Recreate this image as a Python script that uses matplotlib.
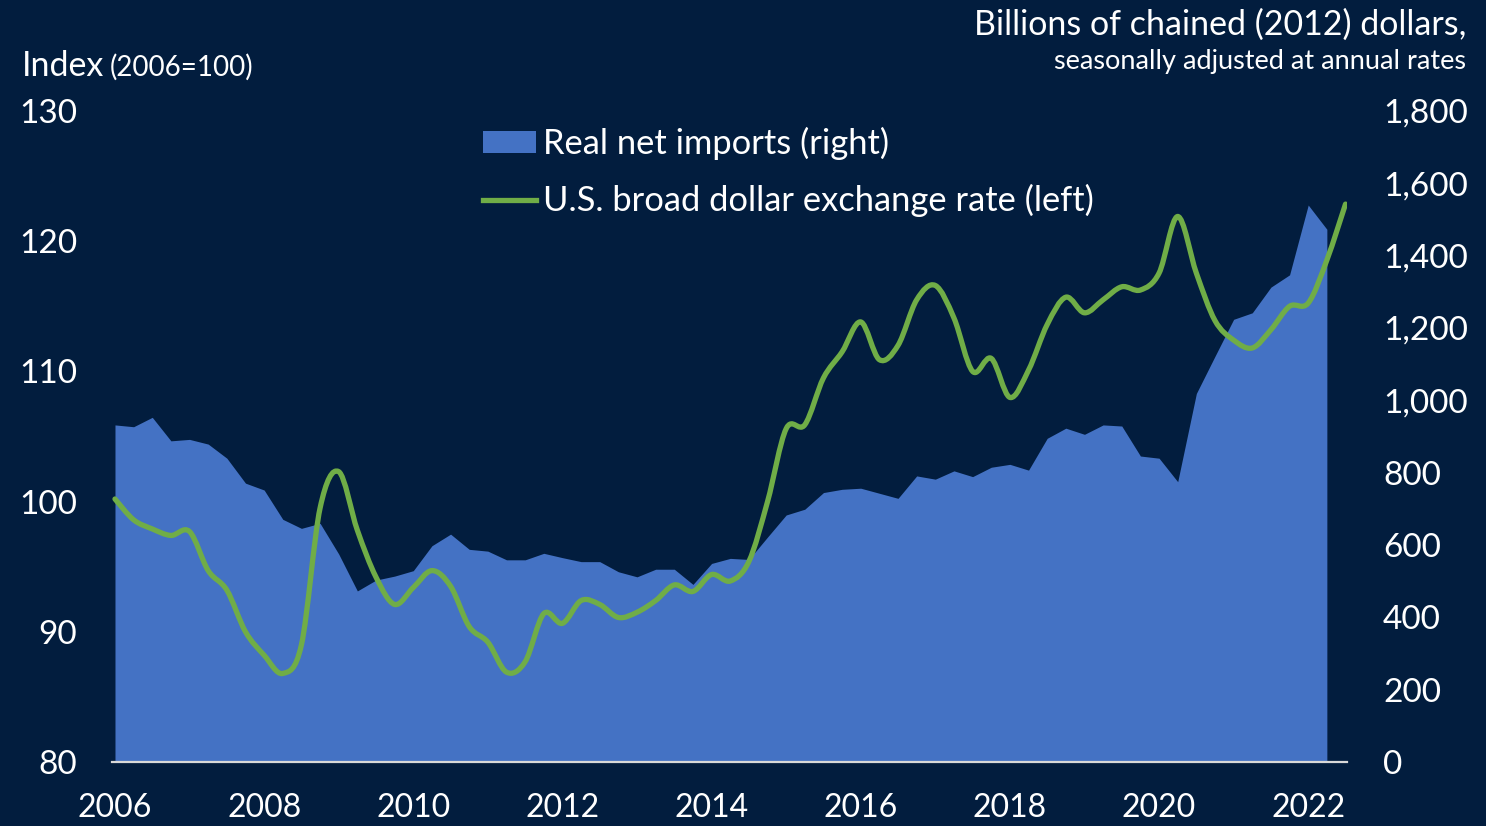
import matplotlib
matplotlib.use("Agg")
import matplotlib.pyplot as plt
from matplotlib.path import Path
from matplotlib.patches import PathPatch
from matplotlib.lines import Line2D
from matplotlib.patches import Patch
import numpy as np

# ---------------- data ----------------
# quarterly real net imports (billions of chained 2012 dollars, right axis), 2006Q1-2022Q2
imports_years = [2006 + q / 4 for q in range(66)]
net_imports = [932, 927, 953, 888,
               892, 879, 840, 771,
               752, 671, 646, 660,
               575, 473, 503, 514,
               529, 598, 630, 588,
               583, 559, 559, 577,
               565, 554, 554, 526,
               512, 533, 533, 491,
               549, 563, 560, 622,
               683, 699, 745, 754,
               757, 743, 729, 791,
               782, 805, 789, 815,
               823, 807, 895, 923,
               906, 932, 929, 846,
               840, 775, 1019, 1122,
               1224, 1242, 1313, 1347,
               1540, 1473]

# quarterly U.S. broad dollar index (2006=100, left axis), 2006Q1-2022Q3
dollar_years = [2006 + q / 4 for q in range(67)]
dollar_index = [100.2, 98.6, 97.9, 97.4,
                97.7, 94.7, 93.2, 90.0,
                88.2, 86.8, 89.0, 99.5,
                102.3, 97.8, 94.2, 92.1,
                93.4, 94.7, 93.5, 90.4,
                89.2, 86.9, 87.7, 91.4,
                90.65, 92.4, 92.1, 91.1,
                91.5, 92.4, 93.6, 93.1,
                94.4, 93.9, 95.4, 100.0,
                105.6, 105.9, 109.5, 111.5,
                113.8, 110.9, 112.0, 115.5,
                116.6, 114.1, 110.0, 111.0,
                108.0, 110.1, 113.6, 115.7,
                114.5, 115.5, 116.5, 116.25,
                117.55, 121.9, 117.55, 113.9,
                112.4, 111.8, 113.2, 115.0,
                115.25, 118.55, 122.85]

x_ticks = [2006, 2008, 2010, 2012, 2014, 2016, 2018, 2020, 2022]
left_ticks = [80, 90, 100, 110, 120, 130]
right_ticks = [0, 200, 400, 600, 800, 1000, 1200, 1400, 1600, 1800]

label_area = "Real net imports (right)"
label_line = "U.S. broad dollar exchange rate (left)"

# ---------------- style ----------------
BG = "#021d3e"
AREA = "#4472c4"
LINE = "#70ad47"
TXT = "white"
FONT = ["Lato", "DejaVu Sans"]
plt.rcParams["font.family"] = FONT
WEIGHT = "normal"

W, H = 1486, 826
fig = plt.figure(figsize=(W / 100, H / 100), dpi=100, facecolor=BG)
ax1 = fig.add_axes([112 / W, 1 - 762 / H, (1347 - 112) / W, (762 - 111) / H])
ax2 = ax1.twinx()
ax1.set_zorder(ax2.get_zorder() + 1)
ax1.patch.set_visible(False)
ax2.set_facecolor(BG)

# area on the right axis
ax2.fill_between(imports_years, net_imports, 0, color=AREA, linewidth=0)
ax2.set_ylim(0, 1800)
ax2.set_yticks(right_ticks)
ax2.set_yticklabels([f"{v:,}" for v in right_ticks])

# smoothed line (Bezier through the data points, like a spreadsheet "smoothed line")
xs = np.array(dollar_years, dtype=float)
ys = np.array(dollar_index, dtype=float)
verts = [(xs[0], ys[0])]
codes = [Path.MOVETO]
n = len(xs)
for i in range(n - 1):
    p0 = np.array([xs[max(i - 1, 0)], ys[max(i - 1, 0)]])
    p1 = np.array([xs[i], ys[i]])
    p2 = np.array([xs[i + 1], ys[i + 1]])
    p3 = np.array([xs[min(i + 2, n - 1)], ys[min(i + 2, n - 1)]])
    c1 = p1 + (p2 - p0) / 6
    c2 = p2 - (p3 - p1) / 6
    verts += [tuple(c1), tuple(c2), tuple(p2)]
    codes += [Path.CURVE4] * 3
ax1.add_patch(PathPatch(Path(verts, codes), facecolor="none", edgecolor=LINE,
                        linewidth=3.8, capstyle="round", joinstyle="round", zorder=3))
ax1.set_ylim(80, 130)
ax1.set_yticks(left_ticks)
ax1.set_xlim(2005.96, 2022.52)
ax1.set_xticks(x_ticks)

for a in (ax1, ax2):
    for s in a.spines.values():
        s.set_visible(False)
    a.tick_params(length=0, colors=TXT, labelsize=24)
ax1.spines["bottom"].set_visible(True)
ax1.spines["bottom"].set_color("#d9d9d9")
ax1.spines["bottom"].set_linewidth(1.6)
ax1.spines["bottom"].set_zorder(5)
ax1.tick_params(axis="y", pad=25)
ax2.tick_params(axis="y", pad=26)
ax1.tick_params(axis="x", labelsize=23, pad=22)
for t in ax1.get_yticklabels() + ax2.get_yticklabels() + ax1.get_xticklabels():
    t.set_fontweight(WEIGHT)

# legend
handles = [Patch(facecolor=AREA, edgecolor="none"),
           Line2D([0], [0], color=LINE, linewidth=3.8)]
leg = ax1.legend(handles, [label_area, label_line], loc="upper left",
                 bbox_to_anchor=(483 / W, 1 - 127 / H), bbox_transform=fig.transFigure,
                 frameon=False, fontsize=24.8, handlelength=1.55, handleheight=0.58,
                 handletextpad=0.2, labelspacing=0.7, borderpad=0, borderaxespad=0)
for t in leg.get_texts():
    t.set_color(TXT)
    t.set_fontweight(WEIGHT)

# axis titles
fig.text(22 / W, 1 - 76 / H, "Index", color=TXT, fontsize=24.5, fontweight=WEIGHT,
         ha="left", va="baseline")
fig.text(110 / W, 1 - 76 / H, "(2006=100)", color=TXT, fontsize=20, fontweight=WEIGHT,
         ha="left", va="baseline")
fig.text(1466 / W, 1 - 35 / H, "Billions of chained (2012) dollars,", color=TXT,
         fontsize=24.5, fontweight=WEIGHT, ha="right", va="baseline")
fig.text(1466 / W, 1 - 69 / H, "seasonally adjusted at annual rates", color=TXT,
         fontsize=19.5, fontweight=WEIGHT, ha="right", va="baseline")

fig.savefig("out.png", dpi=100, facecolor=BG)
